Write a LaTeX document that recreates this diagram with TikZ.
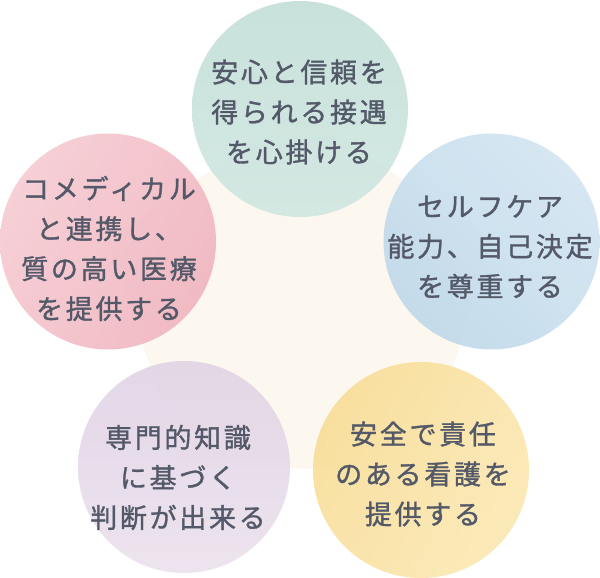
\documentclass[tikz,border=0pt]{standalone}
\usepackage{fontspec}
\newfontfamily\jp[LetterSpace=10,FakeBold=1.2]{Noto Sans CJK JP}
\definecolor{mint}{HTML}{D0E7E1}
\definecolor{mintd}{HTML}{C3DFD8}
\definecolor{sky}{HTML}{D2E5F1}
\definecolor{skyd}{HTML}{BFD8EA}
\definecolor{rose}{HTML}{F6CBD2}
\definecolor{rosed}{HTML}{F0B4BF}
\definecolor{lav}{HTML}{EBE1ED}
\definecolor{lavd}{HTML}{E1D3E5}
\definecolor{sun}{HTML}{FBE8B2}
\definecolor{sund}{HTML}{F8DD97}
\definecolor{cream}{HTML}{FCF7EF}
\definecolor{ink}{HTML}{535968}
\tikzset{
  bubble/.style={circle, inner sep=0pt, minimum size=216pt, fill opacity=0.9},
  bubbletext/.style={font=\jp\fontsize{27}{40}\selectfont, text=ink, align=center, inner sep=0pt},
}
\begin{document}
\begin{tikzpicture}[x=1pt,y=-1pt]
\useasboundingbox (0,0) rectangle (600,578);
\fill[white] (0,0) rectangle (600,578);
% pentagon vertices = bubble centres
\coordinate (p1) at (300,109);
\coordinate (p2) at (491.5,241.5);
\coordinate (p3) at (421,470);
\coordinate (p4) at (184,467);
\coordinate (p5) at (108,241.5);
\fill[cream] (p1) -- (p2) -- (p3) -- (p4) -- (p5) -- cycle;
% bubbles
\node[bubble, top color=mintd, bottom color=mint] (c1) at (p1) {};
\node[bubble, left color=skyd, right color=sky, shading angle=135] (c2) at (p2) {};
\node[bubble, left color=sund, right color=sun, shading angle=60] (c3) at (p3) {};
\node[bubble, minimum size=212pt, top color=lavd, bottom color=lav] (c4) at (p4) {};
\node[bubble, left color=rose, right color=rosed, shading angle=60] (c5) at (p5) {};
% texts
\node[bubbletext] (t1) at (299,112) {安心と信頼を\\得られる接遇\\を心掛ける};
\node[bubbletext] (t2) at (490,247) {セルフケア\\能力、自己決定\\を尊重する};
\node[bubbletext] (t3) at (423,474) {安全で責任\\のある看護を\\提供する};
\node[bubbletext] (t4) at (178,477.5) {専門的知識\\に基づく\\判断が出来る};
\node[bubbletext] (t5) at (109,248.5) {コメディカル\\と連携し、\\質の高い医療\\を提供する};
\end{tikzpicture}
\end{document}
